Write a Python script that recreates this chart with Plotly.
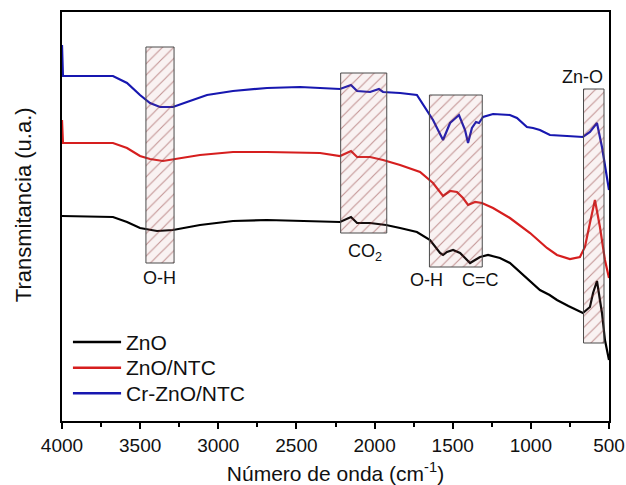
import plotly.graph_objects as go

# ---------------- data (wavenumber cm^-1, transmittance a.u.) ----------------
zno_x = [4000, 3674, 3584, 3501, 3392, 3290, 3117, 2906, 2688, 2349, 2221, 2151, 2112, 2029,
         1927, 1837, 1729, 1645, 1581, 1562, 1537, 1498, 1453, 1421, 1389, 1357, 1325, 1274,
         1198, 1134, 1025, 942, 880, 833, 760, 667, 622, 602, 577, 545, 526, 500]
zno_y = [205, 204, 199, 193, 190, 191, 196, 200, 201, 200, 199, 204, 198, 198,
         196, 193, 189, 181, 168, 166, 169, 171, 168, 163, 158, 161, 164, 166,
         163, 158, 143, 131, 126, 121, 115, 108, 114, 128, 140, 108, 81, 61]

znontc_x = [4000, 3994, 3674, 3584, 3501, 3437, 3354, 3264, 3117, 2906, 2688, 2349, 2221, 2151,
            2112, 2029, 1946, 1837, 1709, 1626, 1562, 1517, 1473, 1434, 1402, 1357, 1313, 1242,
            1134, 1005, 897, 833, 750, 686, 654, 622, 590, 558, 526, 500]
znontc_y = [301, 278, 278, 273, 265, 262, 260, 262, 266, 269, 269, 268, 265, 270,
            264, 264, 261, 256, 249, 238, 225, 230, 229, 223, 216, 219, 218, 213,
            203, 188, 173, 166, 162, 164, 174, 198, 221, 194, 161, 143]

crzno_x = [4000, 3994, 3674, 3584, 3501, 3437, 3373, 3290, 3200, 3072, 2906, 2688, 2477, 2349,
           2221, 2151, 2112, 2029, 1972, 1946, 1837, 1729, 1709, 1626, 1562, 1517, 1460, 1421,
           1402, 1377, 1351, 1332, 1306, 1242, 1134, 1089, 1025, 986, 942, 878, 769, 667,
           622, 577, 545, 526, 500]
crzno_y = [376, 345, 345, 338, 326, 318, 314, 314, 319, 326, 330, 333, 334, 333,
           332, 336, 330, 329, 332, 329, 328, 326, 321, 301, 281, 298, 306, 291,
           278, 293, 299, 298, 304, 307, 306, 303, 294, 293, 291, 286, 285, 284,
           289, 298, 274, 254, 231]

series_names = ["ZnO", "ZnO/NTC", "Cr-ZnO/NTC"]

# hatched band regions: (x_start, x_end, y_bottom, y_top)
band_x0 = [3463, 2217, 1649, 663]
band_x1 = [3283, 1922, 1311, 532]
band_y0 = [158, 188, 154, 78]
band_y1 = [374, 348, 326, 332]

# band labels
label_text = ["O-H", "CO<sub>2</sub>", "O-H", "C=C", "Zn-O"]
label_x = [3373, 2061, 1665, 1325, 667]
label_y = [143, 169, 141, 141, 344]

x_ticks = [4000, 3500, 3000, 2500, 2000, 1500, 1000, 500]

FONT = "Arial, Liberation Sans, sans-serif"
colors = ["#000000", "#d61e1e", "#1717b0"]

fig = go.Figure()
for xs, ys, name, c in zip([zno_x, znontc_x, crzno_x], [zno_y, znontc_y, crzno_y],
                           series_names, colors):
    fig.add_trace(go.Scatter(x=xs, y=ys, mode="lines", name=name,
                             line=dict(color=c, width=2.2), showlegend=False))

for x0, x1, y0, y1 in zip(band_x0, band_x1, band_y0, band_y1):
    fig.add_trace(go.Scatter(
        x=[x0, x1, x1, x0, x0], y=[y0, y0, y1, y1, y0], mode="lines",
        fill="toself", fillcolor="rgba(200,130,130,0.10)",
        fillpattern=dict(shape="/", fgcolor="rgba(130,35,35,0.9)", size=8,
                         solidity=0.14, fillmode="overlay"),
        line=dict(color="#4a4a4a", width=1), showlegend=False, hoverinfo="skip"))

for t, x, y in zip(label_text, label_x, label_y):
    fig.add_annotation(x=x, y=y, text=t, showarrow=False,
                       font=dict(family=FONT, size=18, color="#111"))

# legend drawn in the bottom-left corner of the plot
for i, (name, c) in enumerate(zip(series_names, colors)):
    yp = 0.193 - i * 0.0625
    fig.add_shape(type="line", xref="paper", yref="paper", x0=0.02, x1=0.108,
                  y0=yp, y1=yp, line=dict(color=c, width=2.5))
    fig.add_annotation(xref="paper", yref="paper", x=0.113, y=yp, text=name,
                       xanchor="left", yanchor="middle", showarrow=False,
                       font=dict(family=FONT, size=21, color="#111"))

# y-axis title
fig.add_annotation(xref="paper", yref="paper", x=-0.071, y=0.528,
                   text="Transmitancia (u.a.)", textangle=-90, showarrow=False,
                   xanchor="center", yanchor="middle",
                   font=dict(family=FONT, size=22, color="#111"))

fig.update_layout(
    width=626, height=485,
    margin=dict(l=62, r=17, t=12, b=64),
    paper_bgcolor="white", plot_bgcolor="white",
    font=dict(family=FONT, color="#111"),
    showlegend=False,
    xaxis=dict(range=[4000, 500], tickvals=x_ticks, ticks="outside", ticklen=6,
               tickwidth=1.5, tickcolor="black", automargin=False,
               minor=dict(dtick=250, ticks="outside", ticklen=4, tickwidth=1.5,
                          tickcolor="black"),
               showline=True, linecolor="black", linewidth=1.5, mirror=True,
               showgrid=False, zeroline=False,
               tickfont=dict(family=FONT, size=19),
               title=dict(text="Número de onda (cm<sup>-1</sup>)",
                          font=dict(family=FONT, size=21))),
    yaxis=dict(range=[0, 409], showticklabels=False, ticks="", automargin=False,
               showline=True, linecolor="black", linewidth=1.5, mirror=True,
               showgrid=False, zeroline=False),
)

fig.write_html("out.html")
